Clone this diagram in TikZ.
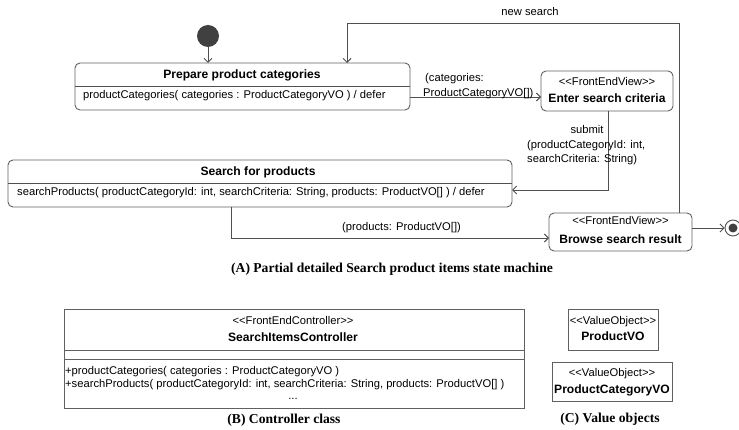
\documentclass[tikz,border=0pt]{standalone}
\usepackage{fontspec}
\setmainfont{Liberation Sans}
\newfontfamily\capfont{Liberation Serif}
\usetikzlibrary{arrows.meta}
\definecolor{lc}{HTML}{505050}
\definecolor{bc}{HTML}{606060}
\definecolor{dotc}{HTML}{404040}
\newcommand\myll{<\kern0pt<\kern0pt}
\newcommand\mygg{>\kern0pt>}
\begin{document}
\begin{tikzpicture}[x=1pt,y=-1pt,
  line/.style={draw=lc, line width=0.9pt},
  arr/.style={line, -{Straight Barb[length=4pt,width=8pt]}},
  sbox/.style={draw=bc, line width=0.9pt, rounded corners=5pt, inner sep=0pt, outer sep=0pt},
  cbox/.style={draw=bc, line width=0.9pt, inner sep=0pt, outer sep=0pt},
  reg/.style={font=\fontsize{11.2}{13}\selectfont, inner sep=0pt, anchor=base},
  regl/.style={reg, anchor=base west},
  bld/.style={font=\bfseries\fontsize{12.1}{14}\selectfont, inner sep=0pt, anchor=base},
  captext/.style={font=\capfont\bfseries\fontsize{13.6}{15}\selectfont, inner sep=0pt, anchor=base}
]
\useasboundingbox (0,0) rectangle (739,430);

% ---------- state machine ----------
\node[circle, fill=dotc, inner sep=0pt, minimum size=22pt] (init) at (208,36) {};

\node[sbox, minimum width=335pt, minimum height=47pt] (prep) at (242.5,86.5) {};
\draw[line] (75,86) -- (410,86);
\node[bld] (prept) at (242,78.5) {Prepare product categories};
\node[regl] (prepo) at (83,99) {productCategories( categories : ProductCategoryVO ) / defer};

\node[sbox, minimum width=132pt, minimum height=40pt] (enter) at (607,91) {};
\node[reg] (enters) at (607,86) {\myll FrontEndView\mygg};
\node[bld] (entern) at (607,102.5) {Enter search criteria};

\node[sbox, minimum width=504pt, minimum height=47pt] (search) at (260,183.5) {};
\draw[line] (8,183) -- (512,183);
\node[bld] (searcht) at (258,175.5) {Search for products};
\node[regl] (searcho) at (17,196) {searchProducts( productCategoryId: int, searchCriteria: String, products: ProductVO[] ) / defer};

\node[sbox, minimum width=143pt, minimum height=38pt] (browse) at (620.5,232) {};
\node[reg] (browses) at (620.5,225) {\myll FrontEndView\mygg};
\node[bld] (browsen) at (620.5,243.5) {Browse search result};

\node[circle, draw=lc, line width=0.9pt, fill=white, inner sep=0pt, minimum size=16pt] (final) at (733,228) {};
\node[circle, fill=dotc, inner sep=0pt, minimum size=9pt] (finaldot) at (733,228) {};

% helper coordinates
\coordinate (y97) at (0,97);
\coordinate (y190) at (0,190);
\coordinate (y238) at (0,238);
\coordinate (y228) at (0,228);
\coordinate (x347) at (347,0);
\coordinate (x608) at (608,0);
\coordinate (x231) at (231,0);
\coordinate (x679) at (679,0);
\coordinate (cs) at (679,23);
\coordinate (ct) at (347,23);
\coordinate (sb) at (608,190);
\coordinate (pb) at (231,238);

% connectors
\draw[arr] (init) -- (prep.north -| init);
\draw[arr] (prep.east |- y97) -- (enter.west |- y97);
\node[regl] (lcat1) at (425,82) {(categories:};
\node[regl] (lcat2) at (423,96.5) {ProductCategoryVO[])};

\draw[arr] (browse.north -| x679) -- (cs) -- (ct) -- (prep.north -| x347);
\node[reg] (lnew) at (530,16) {new search};

\draw[arr] (enter.south -| x608) -- (sb) -- (search.east |- y190);
\node[reg] (lsub1) at (587,134) {submit};
\node[regl] (lsub2) at (527,149) {(productCategoryId: int,};
\node[regl] (lsub3) at (527,163) {searchCriteria: String)};

\draw[arr] (search.south -| x231) -- (pb) -- (browse.west |- y238);
\node[regl] (lprod) at (342,231) {(products: ProductVO[])};

\draw[arr] (browse.east |- y228) -- (final.west);

\node[captext] (capa) at (392,272.5) {(A) Partial detailed Search product items state machine};

% ---------- controller class ----------
\node[cbox, minimum width=460pt, minimum height=99pt] (ctrl) at (294,358.5) {};
\draw[line, draw=bc] (64,350) -- (524,350);
\draw[line, draw=bc] (64,359) -- (524,359);
\node[reg] (ctrls) at (293,325) {\myll FrontEndController\mygg};
\node[bld] (ctrln) at (293,341.5) {SearchItemsController};
\node[regl] (op1) at (65,374) {+productCategories( categories : ProductCategoryVO )};
\node[regl] (op2) at (65,387.5) {+searchProducts( productCategoryId: int, searchCriteria: String, products: ProductVO[] )};
\node[reg] (op3) at (293,399) {...};
\node[captext] (capb) at (284,423.5) {(B) Controller class};

% ---------- value objects ----------
\node[cbox, minimum width=90pt, minimum height=41pt] (pvo) at (613,329.5) {};
\node[reg] (pvos) at (613,325) {\myll ValueObject\mygg};
\node[bld] (pvon) at (613,340.5) {ProductVO};

\node[cbox, minimum width=120pt, minimum height=39pt] (pcvo) at (612,381.5) {};
\node[reg] (pcvos) at (612,376) {\myll ValueObject\mygg};
\node[bld] (pcvon) at (612,393.5) {ProductCategoryVO};
\node[captext] (capc) at (610,422) {(C) Value objects};
\end{tikzpicture}
\end{document}
